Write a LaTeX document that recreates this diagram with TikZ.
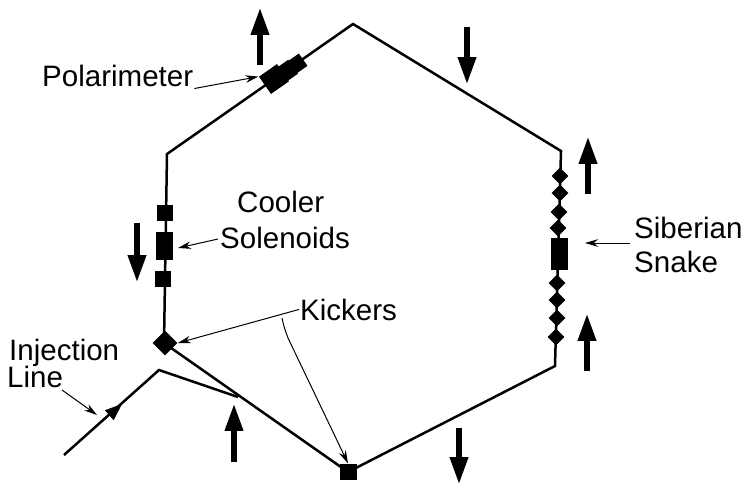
\documentclass[tikz,border=0pt]{standalone}
\usepackage{fontspec}
\setmainfont{Liberation Sans}
\usetikzlibrary{arrows.meta}

\tikzset{
  ringline/.style={line width=0.5mm, line join=miter},
  leader/.style={line width=0.2mm, -{Stealth[length=2.6mm,width=1.5mm]}},
  spinarrow/.style={line width=1.3mm, -{Triangle[length=5.6mm,width=3.4mm]}},
  blockelem/.style={fill=black, inner sep=0pt, minimum width=#1},
  diamondelem/.style={fill=black, inner sep=0pt, minimum size=2.4mm, rotate=45},
  lbl/.style={inner sep=0.5pt, anchor=base west, font=\fontsize{16.8}{18}\selectfont},
}

\begin{document}
\begin{tikzpicture}[x=0.02cm, y=-0.02cm]
\useasboundingbox (0, 0) rectangle (746, 486);

% ring
\coordinate (top) at (353, 24);
\coordinate (ne) at (561, 151);
\coordinate (se) at (555, 366);
\coordinate (bot) at (348, 472);
\coordinate (kick) at (164, 343);
\coordinate (nw) at (167, 154);
\draw[ringline] (top) -- (ne) -- (se) -- (bot) -- (kick) -- (nw) -- cycle;

% injection line
\coordinate (injstart) at (64, 455);
\coordinate (injtip) at (122, 404);
\coordinate (injapex) at (159, 370);
\coordinate (injjoin) at (238, 397);
\draw[ringline] (injstart) -- (injapex) -- (injjoin);
\draw[line width=0.2mm, -{Triangle[length=3.4mm,width=2.6mm]}] (injstart) -- (injtip);

% polarimeter
\node[blockelem=3mm, minimum height=3mm, rotate=35] (polar3) at (297, 64) {};
\node[blockelem=3mm, minimum height=3.4mm, rotate=35] (polar2) at (287, 71) {};
\node[blockelem=4.4mm, minimum height=4.2mm, rotate=35] (polar) at (274, 79) {};

% cooler solenoids
\node[blockelem=3.3mm, minimum height=3.2mm] (cool1) at (165, 213) {};
\node[blockelem=3.4mm, minimum height=5.6mm] (cool2) at (164.5, 246) {};
\node[blockelem=3.3mm, minimum height=3.2mm] (cool3) at (163, 279) {};

% kickers
\node[blockelem=3.5mm, minimum height=3.5mm, rotate=45] (kicker1) at (165, 343) {};
\node[blockelem=3.4mm, minimum height=3.3mm] (kicker2) at (348, 472) {};

% snake
\node[blockelem=3.4mm, minimum height=6.4mm] (snake) at (559.5, 254) {};
\foreach \n/\x/\y in {a/560/176, b/560/193, c/559/212, d/558/228, e/557/283, f/557/300, g/557/318, h/556/337} {
  \node[diamondelem] (dia\n) at (\x, \y) {};
}

% spin arrows
\draw[spinarrow] (260, 65) -- (260, 7);
\draw[spinarrow] (467, 27) -- (467, 85);
\draw[spinarrow] (588, 194) -- (588, 136);
\draw[spinarrow] (587, 371) -- (587, 313);
\draw[spinarrow] (459, 428) -- (459, 485);
\draw[spinarrow] (234, 462) -- (234, 403);
\draw[spinarrow] (137, 223) -- (137, 283);

% labels
\node[lbl] (polarlbl) at (41, 87) {Polarimeter};
\node[lbl] (coolerlbl) at (236, 212) {Cooler};
\node[lbl] (solenlbl) at (219, 248) {Solenoids};
\node[lbl] (kicklbl) at (299, 320) {Kickers};
\node[lbl] (injlbl) at (8, 360) {Injection};
\node[lbl] (linelbl) at (6, 387) {Line};
\node[lbl] (siblbl) at (633, 238) {Siberian};
\node[lbl] (snakelbl) at (633, 272) {Snake};

% leaders
\coordinate (kickbranch) at (282, 318);
\coordinate (kickbend) at (288, 338);
\coordinate (soltip) at (178, 248);
\coordinate (sibtip) at (585, 243);
\coordinate (sibtail) at (630, 243);
\coordinate (soltail) at (218, 239);
\coordinate (injtail) at (62, 390);
\coordinate (injhead) at (97, 415);
\draw[leader] (polarlbl.south east) -- (polar.north west);
\draw[leader] (soltail) -- (soltip);
\draw[leader] (kicklbl.west) -- (kicker1.south east);
\draw[leader] (kickbranch) .. controls (284, 327) .. (kickbend) -- (kicker2.north);
\draw[leader] (sibtail) -- (sibtip);
\draw[leader] (injtail) -- (injhead);
\end{tikzpicture}
\end{document}
